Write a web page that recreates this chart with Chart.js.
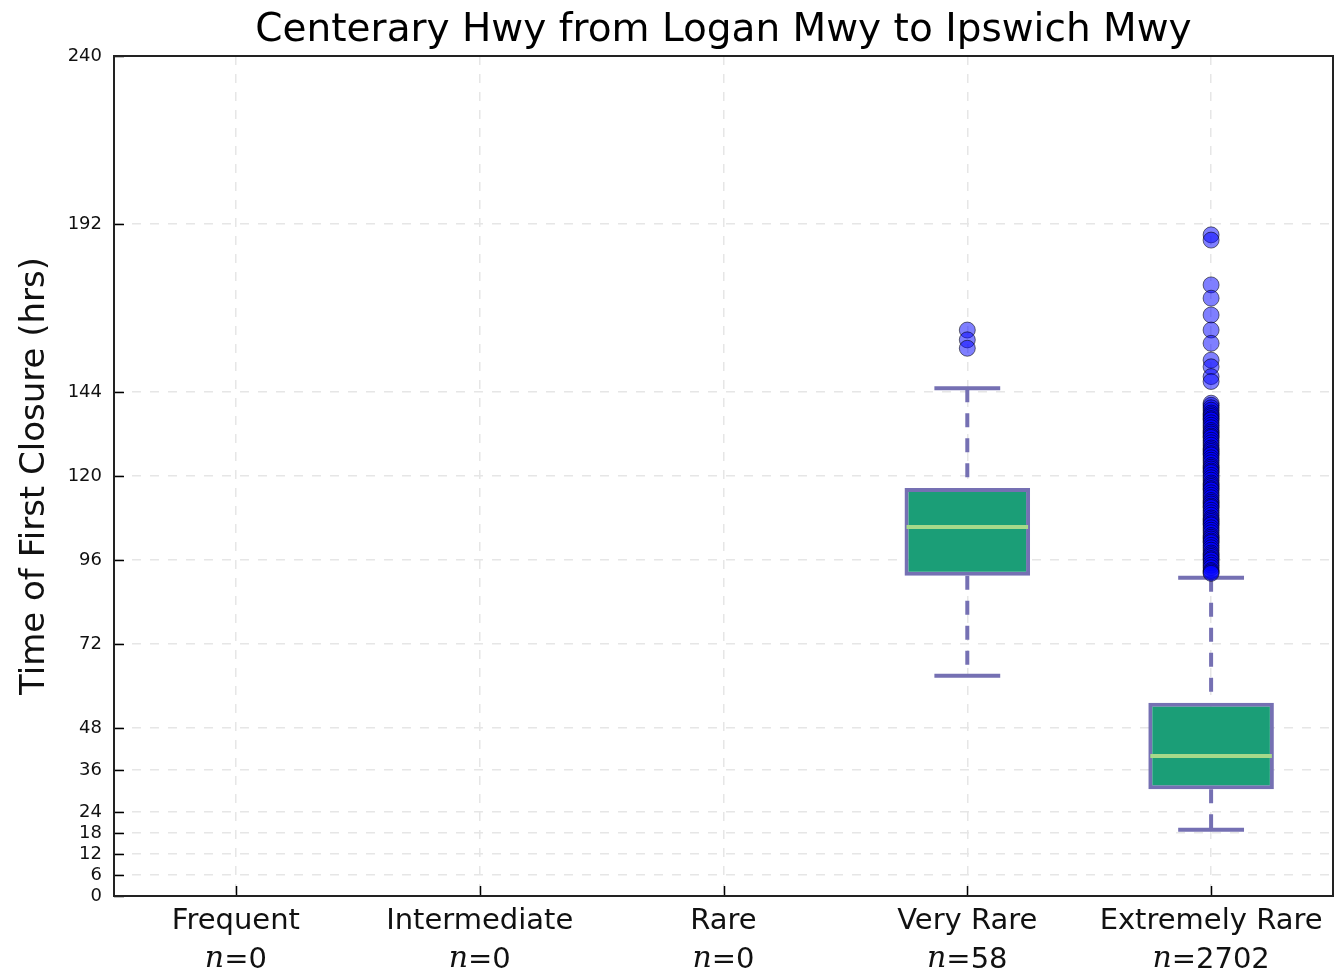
<!DOCTYPE html>
<html><head><meta charset="utf-8">
<script src="https://cdn.jsdelivr.net/npm/chart.js@4"></script>
<style>html,body{margin:0;padding:0;background:#fff;overflow:hidden}#wrap{width:1335px;height:977px;position:relative}canvas{display:block}</style>
</head><body><div id="wrap"><canvas id="c"></canvas></div>
<script>
const titleText = 'Centerary Hwy from Logan Mwy to Ipswich Mwy';
const yTitle = 'Time of First Closure (hrs)';
const categories = ['Frequent', 'Intermediate', 'Rare', 'Very Rare', 'Extremely Rare'];
const counts = [0, 0, 0, 58, 2702];
const q1 = [null, null, null, 91.5, 30.5];
const q3 = [null, null, null, 116.6, 55.2];
const medians = [null, null, null, 105.4, 40.0];
const whiskerLow = [null, null, null, 62.9, 18.9];
const whiskerHigh = [null, null, null, 145.1, 90.9];
const veryRareOutliers = [161.7, 158.9, 156.5];
const extremelyRareOutliers = [188.9, 187.4, 174.6, 170.8, 166.0, 161.7, 157.9, 153.1, 151.2, 148.4, 147.0,
  140.8, 140.2, 139.5, 138.8, 138.0, 137.5, 137.0, 136.4, 136.0, 135.2, 134.5, 133.8, 133.0, 132.5, 132.0,
  131.4, 131.0, 130.2, 129.5, 128.8, 128.0, 127.5, 127.0, 126.4, 126.0, 125.2, 124.5, 123.8, 123.0, 122.5,
  122.0, 121.4, 121.0, 120.2, 119.5, 118.8, 118.0, 117.5, 117.0, 116.4, 116.0, 115.2, 114.5, 113.8, 113.0,
  112.5, 112.0, 111.4, 111.0, 110.2, 109.5, 108.8, 108.0, 107.5, 107.0, 106.4, 106.0, 105.2, 104.5, 103.8,
  103.0, 102.5, 102.0, 101.4, 101.0, 100.2, 99.5, 98.8, 98.0, 97.5, 97.0, 96.4, 96.0, 95.2, 94.5, 93.8,
  93.0, 92.6, 92.2];
const yTickValues = [0, 6, 12, 18, 24, 36, 48, 72, 96, 120, 144, 192, 240];

const BOX_FILL = '#1b9e77', BOX_EDGE = '#7570b3', MEDIAN = '#a6d98a';

const boxData = categories.map((c, i) => q1[i] == null ? null : [q1[i], q3[i]]);
const outlierData = veryRareOutliers.map(v => ({x: 'Very Rare', y: v}))
  .concat(extremelyRareOutliers.map(v => ({x: 'Extremely Rare', y: v})));

const extras = {
  id: 'boxExtras',
  beforeDatasetsDraw(chart) {
    const {ctx, scales: {x, y}} = chart;
    const cw = x.getPixelForValue(1) - x.getPixelForValue(0);
    ctx.save();
    ctx.strokeStyle = BOX_EDGE;
    ctx.lineWidth = 4;
    categories.forEach((c, i) => {
      if (q1[i] == null) return;
      const px = x.getPixelForValue(i);
      ctx.setLineDash([14, 11]);
      ctx.beginPath();
      ctx.moveTo(px, y.getPixelForValue(whiskerHigh[i]));
      ctx.lineTo(px, y.getPixelForValue(q3[i]));
      ctx.moveTo(px, y.getPixelForValue(q1[i]));
      ctx.lineTo(px, y.getPixelForValue(whiskerLow[i]));
      ctx.stroke();
      ctx.setLineDash([]);
      const hw = cw * 0.135;
      ctx.beginPath();
      [whiskerHigh[i], whiskerLow[i]].forEach(v => {
        const py = y.getPixelForValue(v);
        ctx.moveTo(px - hw, py); ctx.lineTo(px + hw, py);
      });
      ctx.stroke();
    });
    ctx.restore();
  },
  afterDatasetsDraw(chart) {
    const {ctx, scales: {y}} = chart;
    const meta = chart.getDatasetMeta(0);
    ctx.save();
    ctx.strokeStyle = MEDIAN;
    ctx.lineWidth = 4;
    categories.forEach((c, i) => {
      if (medians[i] == null) return;
      const el = meta.data[i];
      const py = y.getPixelForValue(medians[i]);
      ctx.beginPath();
      ctx.moveTo(el.x - el.width / 2 + 2, py);
      ctx.lineTo(el.x + el.width / 2 - 2, py);
      ctx.stroke();
    });
    ctx.restore();
  },
  afterDraw(chart) {
    const {ctx, chartArea: a, scales: {x, y}} = chart;
    ctx.save();
    ctx.strokeStyle = '#000';
    ctx.lineWidth = 1.5;
    ctx.beginPath();
    yTickValues.forEach(v => {
      const py = Math.round(y.getPixelForValue(v)) + 0.5;
      ctx.moveTo(a.left, py); ctx.lineTo(a.left + 10, py);
    });
    categories.forEach((c, i) => {
      const px = Math.round(x.getPixelForValue(i)) + 0.5;
      ctx.moveTo(px, a.bottom); ctx.lineTo(px, a.bottom - 10);
    });
    ctx.stroke();
    ctx.lineWidth = 2;
    ctx.strokeStyle = '#222';
    ctx.strokeRect(a.left, a.top, a.right - a.left, a.bottom - a.top);
    // title centred over the plot area
    ctx.fillStyle = '#000';
    ctx.font = '39px "DejaVu Sans"';
    ctx.textAlign = 'center';
    ctx.textBaseline = 'middle';
    ctx.fillText(titleText, (a.left + a.right) / 2, 31);
    ctx.fillStyle = '#111';
    const sans = '29px "DejaVu Sans"', ital = 'italic 30px "DejaVu Serif"';
    categories.forEach((c, i) => {
      const px = x.getPixelForValue(i);
      ctx.font = sans;
      ctx.textAlign = 'center';
      ctx.fillText(c, px, a.bottom + 25);
      const rest = '=' + counts[i];
      ctx.font = ital;
      const w1 = ctx.measureText('n').width;
      ctx.font = sans;
      const w2 = ctx.measureText(rest).width;
      const start = px - (w1 + w2) / 2;
      ctx.textAlign = 'left';
      ctx.font = ital;
      ctx.fillText('n', start, a.bottom + 63);
      ctx.font = sans;
      ctx.fillText(rest, start + w1, a.bottom + 64);
    });
    ctx.restore();
  }
};

new Chart(document.getElementById('c'), {
  data: {
    labels: categories,
    datasets: [
      {
        type: 'bar',
        data: boxData,
        backgroundColor: BOX_FILL,
        borderColor: BOX_EDGE,
        borderWidth: 4,
        borderSkipped: false,
        barPercentage: 0.515,
        categoryPercentage: 1
      },
      {
        type: 'line',
        data: outlierData,
        showLine: false,
        pointRadius: 8,
        pointBackgroundColor: 'rgba(0,0,255,0.5)',
        pointBorderColor: 'rgba(0,0,0,0.55)',
        pointBorderWidth: 1
      }
    ]
  },
  options: {
    responsive: true,
    maintainAspectRatio: false,
    animation: false,
    layout: {autoPadding: false, padding: {left: 0, right: 2, top: 56, bottom: 0}},
    plugins: {
      legend: {display: false},
      tooltip: {enabled: false},
      title: {display: false}
    },
    scales: {
      x: {
        type: 'category',
        offset: true,
        grid: {offset: false, color: '#e6e6e6', lineWidth: 1.5, drawTicks: false},
        border: {display: false, dash: [9, 9]},
        ticks: {display: false},
        afterFit(s) { s.height = 81; }
      },
      y: {
        type: 'linear',
        min: 0,
        max: 240,
        afterBuildTicks(s) { s.ticks = yTickValues.map(v => ({value: v})); },
        grid: {color: '#e6e6e6', lineWidth: 1.5, drawTicks: false},
        border: {display: false, dash: [9, 9]},
        ticks: {color: '#111', padding: 12, font: {family: 'DejaVu Sans', size: 18}, autoSkip: false},
        title: {
          display: true,
          text: yTitle,
          color: '#111',
          font: {family: 'DejaVu Sans', size: 34},
          padding: {top: 14.6, bottom: 0}
        },
        afterFit(s) { s.width = 114; }
      }
    }
  },
  plugins: [extras]
});
</script>
</body></html>
